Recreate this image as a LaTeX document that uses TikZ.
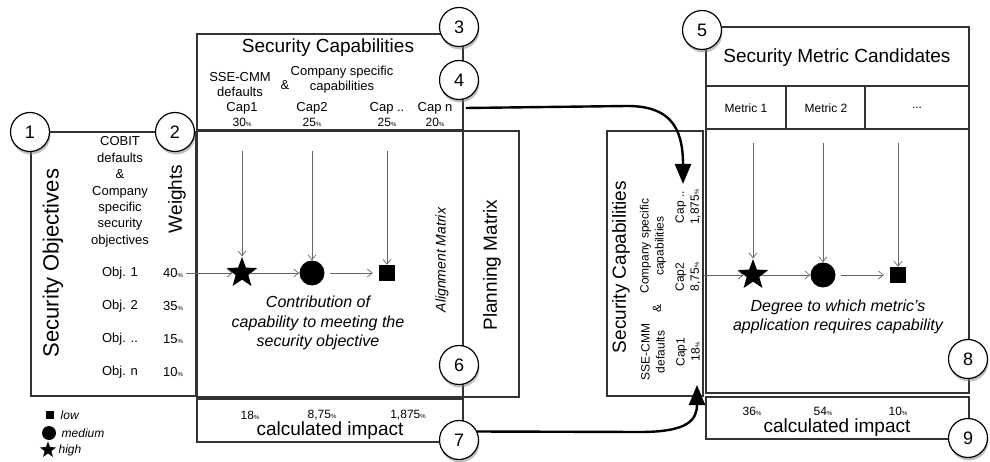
\documentclass[tikz,border=0pt]{standalone}
\usepackage{fontspec}
\setmainfont{Liberation Sans}
\usepackage{tikz}
\usetikzlibrary{arrows.meta,shapes.geometric,shadows,positioning}

\newcommand{\pct}{{\fontsize{6}{6}\selectfont\%}}

\tikzset{
	box/.style={draw=black!80, line width=1.3pt},
	num/.style={circle, draw=black, line width=1.2pt, fill=white, minimum size=39pt, inner sep=0pt,
		font=\fontsize{18}{18}\selectfont, drop shadow={shadow xshift=1pt, shadow yshift=-3pt, opacity=0.5}},
	big/.style={font=\fontsize{19}{21}\selectfont},
	small/.style={font=\fontsize{13}{16.4}\selectfont, align=center},
	tiny/.style={font=\fontsize{12}{15}\selectfont, align=center},
	note/.style={font=\itshape\fontsize{16}{19.5}\selectfont, align=center},
	hi/.style={star, star points=5, star point ratio=2.4, fill=black, minimum size=32pt, inner sep=0pt},
	mid/.style={circle, fill=black, minimum size=25pt, inner sep=0pt},
	lo/.style={rectangle, fill=black, minimum size=16pt, inner sep=0pt},
	feed/.style={draw=black!60, line width=0.7pt, -{Straight Barb[length=5pt,width=8pt]}},
	jump/.style={line width=2.4pt, -{Triangle[length=20pt,width=16pt]}},
}

\begin{document}
\begin{tikzpicture}[x=1pt, y=-1pt]
	\useasboundingbox (0,0) rectangle (990,462);

	% security objectives
	\draw[box] (31,132) rectangle (196,396);
	\node[rotate=90, font=\fontsize{22}{22}\selectfont] (objtitle) at (53,263) {Security Objectives};
	\node[small] (objsrc) at (120,192) {COBIT\\defaults\\\&\\Company\\specific\\security\\objectives};
	\node[rotate=90, big] (weights) at (177,199) {Weights};
	\foreach \o/\w [count=\i] in {1/40, 2/35, ../15, n/10} {
		\node[small] (obj\i) at (120, 240+33*\i) {Obj. \o};
		\node[small] (w\i) at (173, 240+33*\i) {\w\pct};
	}

	% capabilities
	\draw[box] (197,34) rectangle (463,130);
	\node[big] (captitle) at (328,48) {Security Capabilities};
	\node[small, font=\fontsize{13}{15}\selectfont] (capsse) at (240,85) {SSE-CMM\\defaults};
	\node[small] (capand) at (285,85) {\&};
	\node[small, font=\fontsize{13}{15}\selectfont] (capcomp) at (342,80) {Company specific\\capabilities};
	\foreach \c/\x/\p [count=\i] in {Cap1/242/30, Cap2/312/25, Cap ../387/25, Cap n/435/20} {
		\node[small, font=\fontsize{13}{14}\selectfont] (cap\i) at (\x,108) {\c};
		\node[tiny] (cp\i) at (\x,122) {\p\pct};
	}

	% alignment matrix
	\draw[box] (197,131) rectangle (463,397);
	\draw[box] (463,131) rectangle (519,397);
	\node[rotate=90, note, font=\itshape\fontsize{14}{14}\selectfont] (align) at (442,260) {Alignment Matrix};
	\node[rotate=90, big] (plan) at (492,265) {Planning Matrix};
	\node[hi] (star1) at (242,273) {};
	\node[mid] (dot1) at (312,273) {};
	\node[lo] (sq1) at (387,273) {};
	\draw[feed, shorten <=21pt] (cp1) -- (star1);
	\draw[feed, shorten <=21pt] (cp2) -- (dot1);
	\draw[feed, shorten <=21pt] (cp3) -- (sq1);
	\draw[feed] (w1.east) -- (star1);
	\draw[feed] (star1) -- (dot1);
	\draw[feed, shorten <=5pt, shorten >=6pt] (dot1) -- (sq1);
	\node[note] (contrib) at (318,323) {Contribution of\\capability to meeting the\\security objective};

	% impact of capabilities
	\draw[box] (197,399) rectangle (463,442);
	\foreach \v/\x [count=\i] in {18/250, {8,75}/322, {1,875}/408} {
		\node[tiny] (imp\i) at (\x,415) {\v\pct};
	}
	\node[big] (impact) at (330,431) {calculated impact};

	% capabilities, turned
	\draw[box] (607,131) rectangle (703,396);
	\node[rotate=90, big] (rcaptitle) at (621,267) {Security Capabilities};
	\node[rotate=90, tiny] (rsse) at (653,352) {SSE-CMM\\defaults};
	\node[rotate=90, tiny] (rand) at (657,308) {\&};
	\node[rotate=90, tiny] (rcomp) at (653,246) {Company specific\\capabilities};
	\node[rotate=90, tiny] (rcap1) at (688,352) {Cap1\\18\pct};
	\node[rotate=90, tiny] (rcap2) at (688,277) {Cap2\\8,75\pct};
	\node[rotate=90, tiny] (rcap3) at (688,207) {Cap ..\\1,875\pct};

	% metric candidates
	\draw[box] (706,27) rectangle (969,393);
	\draw[box] (706,86) -- (969,86);
	\draw[box] (706,129) -- (969,129);
	\draw[box] (786,86) -- (786,129);
	\draw[box] (865,86) -- (865,129);
	\node[big] (mettitle) at (837,58) {Security Metric Candidates};
	\node[tiny] (met1) at (746,108) {Metric 1};
	\node[tiny] (met2) at (826,108) {Metric 2};
	\node[tiny] (met3) at (917,108) {...};
	\node[hi] (star2) at (753,275) {};
	\node[mid] (dot2) at (823,275) {};
	\node[lo] (sq2) at (898,275) {};
	\draw[feed] (star2 |- 0,143) -- (star2);
	\draw[feed] (dot2 |- 0,143) -- (dot2);
	\draw[feed] (sq2 |- 0,143) -- (sq2);
	\draw[feed] (rcap2.south |- star2) -- (star2);
	\draw[feed] (star2) -- (dot2);
	\draw[feed, shorten <=5pt, shorten >=6pt] (dot2) -- (sq2);
	\node[note] (degree) at (838,317) {Degree to which metric's\\application requires capability};

	% impact of metrics
	\draw[box] (706,397) rectangle (969,439);
	\foreach \v/\x [count=\i] in {36/752, 54/823, 10/898} {
		\node[tiny] (mimp\i) at (\x,411) {\v\pct};
	}
	\node[big] (mimpact) at (837,428) {calculated impact};

	% numbers
	\node[num] (n1) at (30,132) {1};
	\node[num] (n2) at (175,132) {2};
	\node[num] (n3) at (459,27) {3};
	\node[num] (n4) at (459,80) {4};
	\node[num] (n5) at (702,30) {5};
	\node[num] (n6) at (459,365) {6};
	\node[num] (n7) at (459,440) {7};
	\node[num] (n8) at (968,359) {8};
	\node[num] (n9) at (968,438) {9};

	% thick links
	\coordinate (capin) at (683,184);
	\coordinate (impin) at (697,385);
	\draw[jump] ([xshift=10pt]cap4.east) -- (627,106) .. controls (668,106) and (683,125) .. (capin);
	\draw[jump] (n7.25) -- (640,432) .. controls (688,432) and (697,420) .. (impin);

	% legend
	\node[lo, minimum size=8pt] (leglo) at (50,415) {};
	\node[mid, minimum size=14pt] (legmid) at (49,433) {};
	\node[hi, minimum size=17pt] (leghi) at (48,450) {};
	\node[font=\itshape\fontsize{12}{12}\selectfont, right=3pt of leglo] (lowtxt) {low};
	\node[font=\itshape\fontsize{12}{12}\selectfont, right=2pt of legmid] (midtxt) {medium};
	\node[font=\itshape\fontsize{12}{12}\selectfont, right=2pt of leghi] (hitxt) {high};
\end{tikzpicture}
\end{document}
